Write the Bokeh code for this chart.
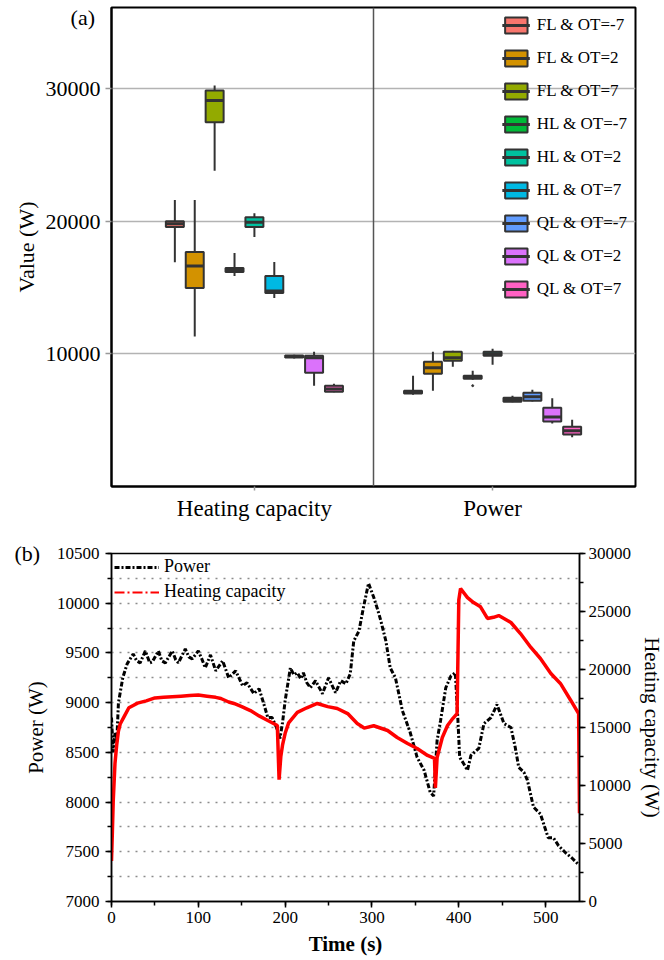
from bokeh.plotting import figure
from bokeh.models import (ColumnDataSource, FixedTicker, Span, Legend, LegendItem, Title,
                          LinearAxis, Range1d, SingleIntervalTicker)
from bokeh.layouts import column
from bokeh.embed import file_html
from bokeh.resources import INLINE

# ---------------- data: panel (a) ----------------
groups = ["Heating capacity", "Power"]
conditions = ["FL & OT=-7", "FL & OT=2", "FL & OT=7",
              "HL & OT=-7", "HL & OT=2", "HL & OT=7",
              "QL & OT=-7", "QL & OT=2", "QL & OT=7"]
colors = ["#F8766D", "#D39200", "#93AA00", "#00BA38", "#00C19F",
          "#00B9E3", "#619CFF", "#DB72FB", "#FF61C3"]
y_ticks_a = [10000, 20000, 30000]

hc_min = [16900, 11300, 23800, 15860, 18800, 14200, 9650, 7600, 7100]
hc_q1  = [19550, 14960, 27450, 16170, 19550, 14590, 9720, 8570, 7150]
hc_med = [19800, 16620, 29100, 16300, 19920, 14740, 9800, 9700, 7350]
hc_q3  = [20000, 17670, 29850, 16470, 20300, 15870, 9870, 9850, 7600]
hc_max = [21600, 21600, 30230, 17600, 20600, 16920, 9920, 10150, 7750]

pw_min = [6920, 7220, 9020, 8050, 9170, 6350, 6400, 4740, 3720]
pw_q1  = [7000, 8500, 9470, 8120, 9850, 6390, 6470, 4890, 3910]
pw_med = [7100, 8950, 9700, 8230, 10000, 6550, 6770, 5230, 4210]
pw_q3  = [7220, 9400, 10150, 8350, 10150, 6690, 7070, 5940, 4510]
pw_max = [8350, 10150, 10230, 8720, 10380, 6840, 7290, 6650, 5040]

outlier_group = [1]
outlier_cond = [3]
outlier_val = [7600]

# ---------------- data: panel (b) ----------------
t_power = [0, 2, 4, 6, 8, 10, 13, 18, 25, 29, 33, 39, 44, 47, 54, 58, 62, 70, 74, 77,
           85, 89, 93, 100, 104, 108, 114, 120, 128, 135, 143, 151, 156, 164, 170, 175,
           180, 185, 190, 194, 197, 200, 206, 210, 214, 218, 221, 225, 229, 235, 243,
           250, 258, 264, 270, 275, 279, 285, 290, 296, 302, 306, 310, 316, 321, 327,
           335, 344, 352, 360, 367, 371, 375, 379, 385, 391, 396, 399, 401, 406, 410,
           414, 423, 429, 437, 444, 452, 460, 465, 469, 475, 479, 486, 494, 503, 509,
           515, 523, 530, 538]
power = [8850, 8500, 8700, 8600, 9000, 9100, 9250, 9390, 9490, 9420, 9400, 9520, 9400,
         9410, 9520, 9420, 9400, 9520, 9430, 9400, 9540, 9460, 9440, 9520, 9440, 9350,
         9480, 9320, 9420, 9250, 9320, 9170, 9200, 9090, 9140, 9000, 8850, 8850, 8750,
         8640, 8800, 9020, 9350, 9280, 9300, 9240, 9300, 9200, 9150, 9220, 9090, 9250,
         9100, 9220, 9190, 9290, 9620, 9720, 9950, 10200, 10060, 9950, 9830, 9620, 9350,
         9250, 8920, 8700, 8450, 8320, 8100, 8060, 8620, 8820, 9150, 9270, 9300, 8820,
         8450, 8380, 8320, 8470, 8540, 8790, 8850, 8980, 8790, 8750, 8550, 8350, 8300,
         8220, 7950, 7880, 7640, 7640, 7560, 7490, 7440, 7370]

t_heat = [0, 1, 2, 4, 6, 8, 10, 15, 20, 25, 30, 40, 50, 60, 70, 80, 90, 100, 110, 120,
          126, 135, 141, 150, 160, 170, 180, 191, 193, 195, 197, 200, 204, 214, 225, 237,
          249, 260, 272, 283, 291, 302, 318, 329, 341, 352, 364, 372, 373, 375, 381, 387,
          393, 398, 400, 402, 410, 417, 425, 433, 440, 446, 452, 460, 471, 483, 494, 506,
          517, 529, 538, 539]
heat = [3500, 6000, 8700, 11900, 13500, 14700, 15300, 16000, 16700, 16900, 17100, 17300,
        17550, 17600, 17650, 17700, 17750, 17800, 17700, 17600, 17500, 17200, 17070,
        16800, 16460, 16000, 15600, 15170, 10500, 12500, 13500, 14500, 15400, 16300,
        16700, 17070, 16800, 16640, 16200, 15340, 14950, 15150, 14740, 14140, 13620,
        13190, 12590, 12330, 9800, 12410, 14140, 15170, 15770, 16200, 26000, 26980,
        26200, 25770, 25400, 24400, 24500, 24650, 24400, 24050, 23100, 21900, 20950,
        19650, 18800, 17330, 16200, 7600]

panel_tags = ["(a)", "(b)"]

SERIF = "Liberation Serif"

# ---------------- panel (a) ----------------
step = 0.0835
xs, lo, q1, med, q3, hi, cols, x0, x1 = [], [], [], [], [], [], [], [], []
for g, (mn, a, m, b, mx) in enumerate([(hc_min, hc_q1, hc_med, hc_q3, hc_max),
                                        (pw_min, pw_q1, pw_med, pw_q3, pw_max)]):
    for i in range(len(conditions)):
        x = g + (i - 4) * step
        xs.append(x)
        lo.append(mn[i]); q1.append(a[i]); med.append(m[i]); q3.append(b[i]); hi.append(mx[i])
        cols.append(colors[i])
        x0.append(x - step / 2 + 0.004)
        x1.append(x + step / 2 - 0.004)

src = ColumnDataSource(dict(x=xs, lo=lo, q1=q1, med=med, q3=q3, hi=hi, color=cols, x0=x0, x1=x1))

Y_TOP_A = 36100
p1 = figure(frame_width=524, frame_height=479, x_range=Range1d(-0.6, 1.6),
            y_range=Range1d(0, Y_TOP_A), output_backend="svg", toolbar_location=None,
            min_border_left=111, min_border_top=7, min_border_right=10, min_border_bottom=48)
p1.outline_line_color = "black"
p1.outline_line_width = 2
p1.xgrid.visible = False
p1.ygrid.ticker = FixedTicker(ticks=y_ticks_a)
p1.ygrid.grid_line_color = "#b3b3b3"
p1.ygrid.grid_line_width = 1.5

p1.add_layout(Span(location=0.5, dimension="height", line_color="#555555", line_width=1.5))

p1.segment(x0="x", y0="lo", x1="x", y1="hi", source=src, line_color="#333333", line_width=2)
r_box = p1.vbar(x="x", width=step - 0.008, bottom="q1", top="q3", source=src,
                fill_color="color", line_color="#333333", line_width=2)
r_med = p1.segment(x0="x0", y0="med", x1="x1", y1="med", source=src,
                   line_color="#333333", line_width=3)
p1.scatter(x=[g + (c - 4) * step for g, c in zip(outlier_group, outlier_cond)], y=outlier_val,
           size=2, color="#333333")

# the "(a)" tag is carried by the y axis as an extra tick label near the top edge
tag_pos_a = Y_TOP_A - 750
p1.yaxis.ticker = FixedTicker(ticks=y_ticks_a + [tag_pos_a], minor_ticks=y_ticks_a)
p1.yaxis.major_label_overrides = {tag_pos_a: panel_tags[0] + "\u00a0"}
p1.xaxis.ticker = FixedTicker(ticks=[0, 1])
p1.xaxis.major_label_overrides = {0: groups[0], 1: groups[1]}
p1.yaxis.axis_label = "Value (W)"
for ax in (p1.xaxis, p1.yaxis):
    ax.axis_line_color = "black"
    ax.axis_line_width = 2
    ax.major_tick_in = 0
    ax.major_tick_out = 6
    ax.major_tick_line_color = "#999999"
    ax.major_tick_line_width = 1.5
    ax.minor_tick_line_color = None
    ax.major_label_text_font = SERIF
    ax.major_label_text_font_size = "22px"
    ax.major_label_text_color = "black"
    ax.axis_label_text_font = SERIF
    ax.axis_label_text_font_size = "22px"
    ax.axis_label_text_font_style = "normal"
    ax.axis_label_text_color = "black"
    ax.axis_label_standoff = 4
p1.yaxis.major_tick_line_color = None
p1.yaxis.minor_tick_line_color = "#999999"
p1.yaxis.minor_tick_line_width = 1.5
p1.yaxis.minor_tick_in = 0
p1.yaxis.minor_tick_out = 6
p1.xaxis.major_tick_out = 4
p1.xaxis.major_label_text_font_size = "23px"

items = [LegendItem(label=conditions[i], renderers=[r_box, r_med], index=i)
         for i in range(len(conditions))]
leg1 = Legend(items=items, location="top_right", border_line_alpha=0, background_fill_alpha=0,
              label_text_font=SERIF, label_text_font_size="17px", label_text_color="black",
              glyph_width=28, glyph_height=20, label_height=20, spacing=13, margin=8,
              padding=0, label_standoff=7)
p1.add_layout(leg1)

# ---------------- panel (b) ----------------
p2 = figure(frame_width=468, frame_height=348, x_range=Range1d(0, 539),
            y_range=Range1d(7000, 10500), output_backend="svg", toolbar_location=None,
            min_border_left=111, min_border_right=76, min_border_top=19, min_border_bottom=55)
p2.extra_y_ranges = {"hc": Range1d(0, 30000)}
p2.outline_line_color = "black"
p2.outline_line_width = 1.5
p2.xgrid.visible = False
p2.ygrid.ticker = SingleIntervalTicker(interval=250)
p2.ygrid.grid_line_color = "#8c8c8c"
p2.ygrid.grid_line_dash = "2 6"
p2.ygrid.grid_line_width = 1.5

p2.add_layout(Title(text=panel_tags[1], align="left", offset=-97, vertical_align="bottom",
                    standoff=-24, text_font=SERIF, text_font_size="22px",
                    text_font_style="normal", text_color="black"), "above")

ax_r = LinearAxis(y_range_name="hc", axis_label="Heating capacity (W)",
                  ticker=SingleIntervalTicker(interval=5000, num_minor_ticks=2))
p2.add_layout(ax_r, "right")
p2.xaxis.ticker = SingleIntervalTicker(interval=100, num_minor_ticks=2)
p2.yaxis[0].ticker = SingleIntervalTicker(interval=500, num_minor_ticks=2)
p2.xaxis.axis_label = "Time (s)"
p2.yaxis[0].axis_label = "Power (W)"
for ax in list(p2.xaxis) + list(p2.yaxis):
    ax.axis_line_color = "black"
    ax.axis_line_width = 1.5
    ax.major_tick_in = 0
    ax.major_tick_out = 6
    ax.minor_tick_in = 0
    ax.minor_tick_out = 4
    ax.major_tick_line_width = 1.5
    ax.minor_tick_line_width = 1.5
    ax.major_label_text_font = SERIF
    ax.major_label_text_font_size = "17px"
    ax.major_label_text_color = "black"
    ax.major_label_standoff = 6
    ax.axis_label_text_font = SERIF
    ax.axis_label_text_font_size = "21px"
    ax.axis_label_text_font_style = "normal"
    ax.axis_label_text_color = "black"
    ax.axis_label_standoff = 6
ax_r.major_label_standoff = 3
p2.xaxis.axis_label_text_font_style = "bold"
p2.xaxis.major_label_standoff = 4

r_pw = p2.line(t_power, power, line_color="black", line_width=3, line_dash="5 2 2 2")
r_hc = p2.line(t_heat, heat, line_color="#ff0000", line_width=3.5, y_range_name="hc")
r_hc_key = p2.line(x=t_heat[:1], y=heat[:1], line_color="#ff0000", line_width=2,
                   line_dash="10 3 2 3", y_range_name="hc")
leg2 = Legend(items=[LegendItem(label="Power", renderers=[r_pw]),
                     LegendItem(label="Heating capacity", renderers=[r_hc_key])],
              location="top_left", border_line_alpha=0, background_fill_alpha=0,
              label_text_font=SERIF, label_text_font_size="18px", label_text_color="black",
              glyph_width=45, glyph_height=16, label_height=16, spacing=4, margin=3,
              padding=0, label_standoff=5)
p2.add_layout(leg2)

layout = column(p1, p2, spacing=0)
open("out.html", "w").write(file_html(layout, INLINE))
